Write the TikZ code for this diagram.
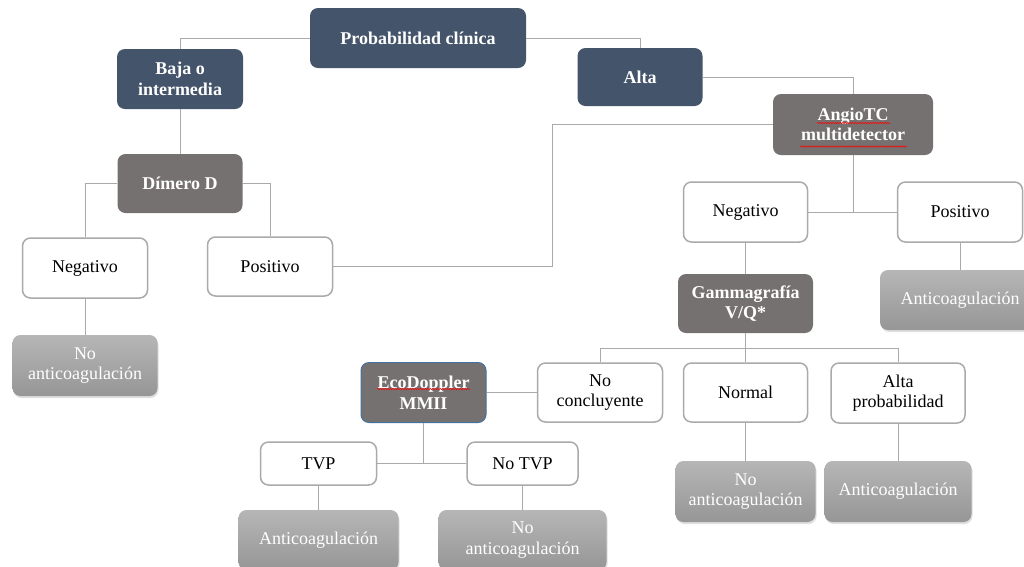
\documentclass[tikz,border=0pt]{standalone}
\usepackage{fontspec}
\setmainfont{Liberation Serif}
\newfontfamily\tnr{Liberation Serif}
\usetikzlibrary{calc,decorations.pathmorphing,shadows}

\definecolor{azulgris}{RGB}{68,84,106}
\definecolor{grisosc}{RGB}{118,113,113}
\definecolor{grislinea}{RGB}{170,170,170}
\definecolor{grisclaro}{RGB}{182,182,182}
\definecolor{grismedio}{RGB}{150,150,150}
\definecolor{bordeazul}{RGB}{65,113,156}

\begin{document}
\begin{tikzpicture}[x=1pt,y=-1pt]
			\tikzstyle{every node}=[font=\tnr\fontsize{18}{20.5}\selectfont, align=center, rounded corners=8pt, inner sep=0pt]
			\tikzstyle{nivel}=[fill=azulgris, text=white, font=\tnr\fontsize{18}{20.5}\selectfont\bfseries]
			\tikzstyle{prueba}=[fill=grisosc, text=white, font=\tnr\fontsize{18}{20.5}\selectfont\bfseries]
			\tikzstyle{resultado}=[fill=white, draw=grislinea, line width=1.5pt]
			\tikzstyle{conducta}=[top color=grisclaro, bottom color=grismedio, text=white, drop shadow={shadow xshift=1pt, shadow yshift=-2pt, opacity=.25}]
			\tikzstyle{linea}=[draw=grislinea, line width=1pt]
			\tikzstyle{subrayado}=[red, line width=0.5pt, decorate, decoration={snake, amplitude=0.7pt, segment length=2.5pt}]
			
			\useasboundingbox[fill=white] (0,0) rectangle (1024,566);
			
			%Probabilidad
			\node[nivel, minimum width=216, minimum height=60] (prob) at (418,38) {Probabilidad clínica};
			\node[nivel, minimum width=126, minimum height=60] (baja) at (180,79) {Baja o\\intermedia};
			\node[nivel, minimum width=125, minimum height=58] (alta) at (640,77) {Alta};
			
			%Pruebas
			\node[prueba, minimum width=125, minimum height=59] (dimero) at (180,183.5) {Dímero D};
			\node[prueba, minimum width=160, minimum height=61] (angio) at (853,124.5) {AngioTC\\multidetector};
			\node[prueba, minimum width=135, minimum height=59] (gamma) at (745.5,303.5) {Gammagrafía\\V/Q*};
			\node[prueba, draw=bordeazul, line width=1pt, minimum width=125, minimum height=60] (eco) at (423.5,392.5) {EcoDoppler\\MMII};
			
			%Resultados
			\node[resultado, minimum width=125, minimum height=60] (negI) at (85,268) {Negativo};
			\node[resultado, minimum width=125, minimum height=59] (posI) at (270,266.5) {Positivo};
			\node[resultado, minimum width=124, minimum height=60] (negD) at (745.5,212) {Negativo};
			\node[resultado, minimum width=125, minimum height=60] (posD) at (960,212) {Positivo};
			\node[resultado, minimum width=125, minimum height=59] (nocon) at (600,392.5) {No\\concluyente};
			\node[resultado, minimum width=124, minimum height=59] (normal) at (745.5,392.5) {Normal};
			\node[resultado, minimum width=134, minimum height=60] (altap) at (898,393) {Alta\\probabilidad};
			\node[resultado, minimum width=116, minimum height=43] (tvp) at (318.5,463.5) {TVP};
			\node[resultado, minimum width=111, minimum height=43] (notvp) at (522.5,463.5) {No TVP};
			
			%Conducta
			\node[conducta, minimum width=145, minimum height=61] (noI) at (85,365.5) {No\\anticoagulación};
			\node[conducta, minimum width=160, minimum height=60] (antD) at (960,300) {Anticoagulación};
			\node[conducta, minimum width=140, minimum height=61] (noN) at (745.5,491.5) {No\\anticoagulación};
			\node[conducta, minimum width=147, minimum height=61] (antA) at (898,491.5) {Anticoagulación};
			\node[conducta, minimum width=160, minimum height=60] (antT) at (318.5,540) {Anticoagulación};
			\node[conducta, minimum width=168, minimum height=60] (noT) at (522.5,540) {No\\anticoagulación};
			
			%Corrector ortografico
			\draw[subrayado] ($(angio.center)+(-36,-1.5)$) -- ++(73,0);
			\draw[subrayado] ($(angio.center)+(-53,22)$) -- ++(107,0);
			\draw[subrayado] ($(eco.center)+(-46.5,-3.5)$) -- ++(93,0);
			
			%Conectores
			\draw[linea] (prob.west) -| (baja.north);
			\draw[linea] (prob.east) -| (alta.north);
			\draw[linea] (alta.east) -| (angio.north);
			\draw[linea] (baja) -- (dimero);
			\draw[linea] (dimero.west) -| (negI.north);
			\draw[linea] (dimero.east) -| (posI.north);
			\draw[linea] (negI) -- (noI);
			\coordinate (codo) at (552,124.5);
			\draw[linea] (angio.west) -- (codo) |- (posI.east);
			\draw[linea] (angio.south) -- (angio.south |- negD.east);
			\draw[linea] (negD.east) -- (posD.west);
			\draw[linea] (negD) -- (gamma);
			\draw[linea] (posD) -- (antD);
			\draw[linea] (gamma) -- (normal);
			\draw[linea] (nocon.north) -- ++(0,-14) -| (altap.north);
			\draw[linea] (eco.east) -- (eco.east -| nocon.west);
			\draw[linea] (eco.south) -- (eco.south |- tvp.east);
			\draw[linea] (tvp.east) -- (notvp.west);
			\draw[linea] (tvp) -- (antT);
			\draw[linea] (notvp) -- (noT);
			\draw[linea] (normal) -- (noN);
			\draw[linea] (altap) -- (antA);
\end{tikzpicture}
\end{document}
